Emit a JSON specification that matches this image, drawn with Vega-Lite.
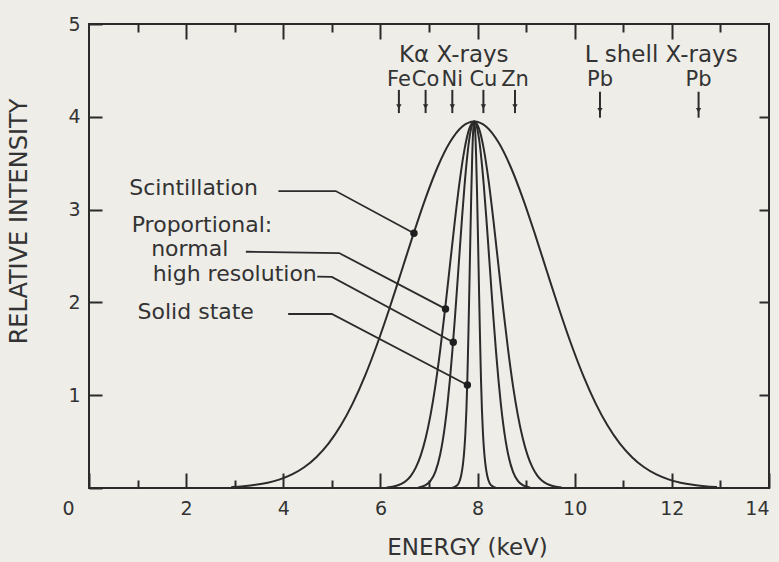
{
  "$schema": "https://vega.github.io/schema/vega-lite/v6.json",
  "width": 680,
  "height": 464,
  "autosize": {"type": "none"},
  "padding": {"left": 89, "top": 24, "right": 10, "bottom": 74},
  "background": "#eeede8",
  "config": {
    "view": {"stroke": "#2a2a2a", "strokeWidth": 2},
    "font": "DejaVu Sans",
    "axis": {"grid": false, "domain": false, "tickColor": "#2a2a2a", "tickWidth": 2, "labelColor": "#333333", "titleColor": "#333333", "titleFontWeight": "normal", "labelFlush": false, "labelOverlap": false}
  },
  "datasets": {
    "curves": [
      {"det": "Scintillation", "e": 2.93, "i": 0.011}, {"det": "Scintillation", "e": 3.18, "i": 0.02}, {"det": "Scintillation", "e": 3.43, "i": 0.034}, {"det": "Scintillation", "e": 3.68, "i": 0.057}, {"det": "Scintillation", "e": 3.93, "i": 0.093}, {"det": "Scintillation", "e": 4.18, "i": 0.146}, {"det": "Scintillation", "e": 4.43, "i": 0.223}, {"det": "Scintillation", "e": 4.68, "i": 0.332}, {"det": "Scintillation", "e": 4.93, "i": 0.478}, {"det": "Scintillation", "e": 5.18, "i": 0.67}, {"det": "Scintillation", "e": 5.43, "i": 0.912}, {"det": "Scintillation", "e": 5.68, "i": 1.205}, {"det": "Scintillation", "e": 5.93, "i": 1.546}, {"det": "Scintillation", "e": 6.18, "i": 1.926}, {"det": "Scintillation", "e": 6.43, "i": 2.33}, {"det": "Scintillation", "e": 6.68, "i": 2.738}, {"det": "Scintillation", "e": 6.93, "i": 3.124}, {"det": "Scintillation", "e": 7.18, "i": 3.462}, {"det": "Scintillation", "e": 7.43, "i": 3.725}, {"det": "Scintillation", "e": 7.68, "i": 3.893}, {"det": "Scintillation", "e": 7.93, "i": 3.95}, {"det": "Scintillation", "e": 8.18, "i": 3.893}, {"det": "Scintillation", "e": 8.43, "i": 3.725}, {"det": "Scintillation", "e": 8.68, "i": 3.462}, {"det": "Scintillation", "e": 8.93, "i": 3.124}, {"det": "Scintillation", "e": 9.18, "i": 2.738}, {"det": "Scintillation", "e": 9.43, "i": 2.33}, {"det": "Scintillation", "e": 9.68, "i": 1.926}, {"det": "Scintillation", "e": 9.93, "i": 1.546}, {"det": "Scintillation", "e": 10.18, "i": 1.205}, {"det": "Scintillation", "e": 10.43, "i": 0.912}, {"det": "Scintillation", "e": 10.68, "i": 0.67}, {"det": "Scintillation", "e": 10.93, "i": 0.478}, {"det": "Scintillation", "e": 11.18, "i": 0.332}, {"det": "Scintillation", "e": 11.43, "i": 0.223}, {"det": "Scintillation", "e": 11.68, "i": 0.146}, {"det": "Scintillation", "e": 11.93, "i": 0.093}, {"det": "Scintillation", "e": 12.18, "i": 0.057}, {"det": "Scintillation", "e": 12.43, "i": 0.034}, {"det": "Scintillation", "e": 12.68, "i": 0.02}, {"det": "Scintillation", "e": 12.93, "i": 0.011},
      {"det": "Normal", "e": 6.13, "i": 0.006}, {"det": "Normal", "e": 6.33, "i": 0.024}, {"det": "Normal", "e": 6.43, "i": 0.044}, {"det": "Normal", "e": 6.53, "i": 0.078}, {"det": "Normal", "e": 6.63, "i": 0.134}, {"det": "Normal", "e": 6.73, "i": 0.222}, {"det": "Normal", "e": 6.83, "i": 0.351}, {"det": "Normal", "e": 6.93, "i": 0.535}, {"det": "Normal", "e": 7.03, "i": 0.782}, {"det": "Normal", "e": 7.13, "i": 1.098}, {"det": "Normal", "e": 7.23, "i": 1.482}, {"det": "Normal", "e": 7.33, "i": 1.923}, {"det": "Normal", "e": 7.43, "i": 2.396}, {"det": "Normal", "e": 7.53, "i": 2.868}, {"det": "Normal", "e": 7.63, "i": 3.299}, {"det": "Normal", "e": 7.73, "i": 3.646}, {"det": "Normal", "e": 7.83, "i": 3.872}, {"det": "Normal", "e": 7.93, "i": 3.95}, {"det": "Normal", "e": 8.03, "i": 3.872}, {"det": "Normal", "e": 8.13, "i": 3.646}, {"det": "Normal", "e": 8.23, "i": 3.299}, {"det": "Normal", "e": 8.33, "i": 2.868}, {"det": "Normal", "e": 8.43, "i": 2.396}, {"det": "Normal", "e": 8.53, "i": 1.923}, {"det": "Normal", "e": 8.63, "i": 1.482}, {"det": "Normal", "e": 8.73, "i": 1.098}, {"det": "Normal", "e": 8.83, "i": 0.782}, {"det": "Normal", "e": 8.93, "i": 0.535}, {"det": "Normal", "e": 9.03, "i": 0.351}, {"det": "Normal", "e": 9.13, "i": 0.222}, {"det": "Normal", "e": 9.23, "i": 0.134}, {"det": "Normal", "e": 9.33, "i": 0.078}, {"det": "Normal", "e": 9.43, "i": 0.044}, {"det": "Normal", "e": 9.53, "i": 0.024}, {"det": "Normal", "e": 9.73, "i": 0.006},
      {"det": "High", "e": 6.78, "i": 0.006}, {"det": "High", "e": 6.93, "i": 0.03}, {"det": "High", "e": 7.03, "i": 0.076}, {"det": "High", "e": 7.13, "i": 0.174}, {"det": "High", "e": 7.23, "i": 0.361}, {"det": "High", "e": 7.33, "i": 0.681}, {"det": "High", "e": 7.38, "i": 0.902}, {"det": "High", "e": 7.43, "i": 1.165}, {"det": "High", "e": 7.48, "i": 1.47}, {"det": "High", "e": 7.53, "i": 1.808}, {"det": "High", "e": 7.58, "i": 2.172}, {"det": "High", "e": 7.63, "i": 2.545}, {"det": "High", "e": 7.68, "i": 2.911}, {"det": "High", "e": 7.73, "i": 3.249}, {"det": "High", "e": 7.78, "i": 3.539}, {"det": "High", "e": 7.83, "i": 3.762}, {"det": "High", "e": 7.88, "i": 3.902}, {"det": "High", "e": 7.93, "i": 3.95}, {"det": "High", "e": 7.98, "i": 3.902}, {"det": "High", "e": 8.03, "i": 3.762}, {"det": "High", "e": 8.08, "i": 3.539}, {"det": "High", "e": 8.13, "i": 3.249}, {"det": "High", "e": 8.18, "i": 2.911}, {"det": "High", "e": 8.23, "i": 2.545}, {"det": "High", "e": 8.28, "i": 2.172}, {"det": "High", "e": 8.33, "i": 1.808}, {"det": "High", "e": 8.38, "i": 1.47}, {"det": "High", "e": 8.43, "i": 1.165}, {"det": "High", "e": 8.48, "i": 0.902}, {"det": "High", "e": 8.53, "i": 0.681}, {"det": "High", "e": 8.63, "i": 0.361}, {"det": "High", "e": 8.73, "i": 0.174}, {"det": "High", "e": 8.83, "i": 0.076}, {"det": "High", "e": 8.93, "i": 0.03}, {"det": "High", "e": 9.08, "i": 0.006},
      {"det": "Solid", "e": 7.48, "i": 0.004}, {"det": "Solid", "e": 7.55, "i": 0.018}, {"det": "Solid", "e": 7.61, "i": 0.05}, {"det": "Solid", "e": 7.66, "i": 0.13}, {"det": "Solid", "e": 7.7, "i": 0.26}, {"det": "Solid", "e": 7.73, "i": 0.43}, {"det": "Solid", "e": 7.75, "i": 0.6}, {"det": "Solid", "e": 7.77, "i": 0.84}, {"det": "Solid", "e": 7.79, "i": 1.178}, {"det": "Solid", "e": 7.81, "i": 1.624}, {"det": "Solid", "e": 7.83, "i": 2.131}, {"det": "Solid", "e": 7.85, "i": 2.661}, {"det": "Solid", "e": 7.87, "i": 3.163}, {"det": "Solid", "e": 7.89, "i": 3.579}, {"det": "Solid", "e": 7.91, "i": 3.854}, {"det": "Solid", "e": 7.93, "i": 3.95}, {"det": "Solid", "e": 7.95, "i": 3.854}, {"det": "Solid", "e": 7.97, "i": 3.579}, {"det": "Solid", "e": 7.99, "i": 3.163}, {"det": "Solid", "e": 8.01, "i": 2.661}, {"det": "Solid", "e": 8.03, "i": 2.131}, {"det": "Solid", "e": 8.05, "i": 1.624}, {"det": "Solid", "e": 8.07, "i": 1.178}, {"det": "Solid", "e": 8.09, "i": 0.84}, {"det": "Solid", "e": 8.11, "i": 0.6}, {"det": "Solid", "e": 8.13, "i": 0.43}, {"det": "Solid", "e": 8.16, "i": 0.26}, {"det": "Solid", "e": 8.2, "i": 0.13}, {"det": "Solid", "e": 8.25, "i": 0.05}, {"det": "Solid", "e": 8.31, "i": 0.018}, {"det": "Solid", "e": 8.38, "i": 0.004}
    ],
    "leaders": [
      {"det": "Scintillation", "o": 1, "e": 3.9, "i": 3.2}, {"det": "Scintillation", "o": 2, "e": 5.08, "i": 3.2}, {"det": "Scintillation", "o": 3, "e": 6.69, "i": 2.745},
      {"det": "Normal", "o": 1, "e": 3.23, "i": 2.546}, {"det": "Normal", "o": 2, "e": 5.15, "i": 2.532}, {"det": "Normal", "o": 3, "e": 7.34, "i": 1.93},
      {"det": "High", "o": 1, "e": 4.7, "i": 2.277}, {"det": "High", "o": 2, "e": 5.0, "i": 2.274}, {"det": "High", "o": 3, "e": 7.5, "i": 1.57},
      {"det": "Solid", "o": 1, "e": 4.1, "i": 1.875}, {"det": "Solid", "o": 2, "e": 5.0, "i": 1.875}, {"det": "Solid", "o": 3, "e": 7.79, "i": 1.11}
    ],
    "dots": [
      {"det": "Scintillation", "e": 6.69, "i": 2.745},
      {"det": "Normal", "e": 7.34, "i": 1.93},
      {"det": "High", "e": 7.5, "i": 1.57},
      {"det": "Solid", "e": 7.79, "i": 1.11}
    ],
    "legendText": [
      {"label": "Scintillation", "e": 0.83, "i": 3.23},
      {"label": "Proportional:", "e": 0.88, "i": 2.83},
      {"label": "normal", "e": 1.28, "i": 2.575},
      {"label": "high resolution", "e": 1.31, "i": 2.31},
      {"label": "Solid state", "e": 1.0, "i": 1.9}
    ],
    "topText": [
      {"label": "Kα X-rays", "e": 7.51, "i": 4.67},
      {"label": "L   shell X-rays", "e": 11.78, "i": 4.67}
    ],
    "elemText": [
      {"label": "Fe", "e": 6.38, "i": 4.4},
      {"label": "Co", "e": 6.93, "i": 4.4},
      {"label": "Ni", "e": 7.48, "i": 4.4},
      {"label": "Cu", "e": 8.12, "i": 4.4},
      {"label": "Zn", "e": 8.77, "i": 4.4},
      {"label": "Pb", "e": 10.52, "i": 4.4},
      {"label": "Pb", "e": 12.55, "i": 4.4}
    ],
    "arrows": [
      {"line": "Fe Kα", "e": 6.38, "top": 4.29, "bottom": 4.04, "head": 4.11},
      {"line": "Co Kα", "e": 6.93, "top": 4.29, "bottom": 4.04, "head": 4.11},
      {"line": "Ni Kα", "e": 7.48, "top": 4.29, "bottom": 4.04, "head": 4.11},
      {"line": "Cu Kα", "e": 8.12, "top": 4.29, "bottom": 4.04, "head": 4.11},
      {"line": "Zn Kα", "e": 8.77, "top": 4.29, "bottom": 4.04, "head": 4.11},
      {"line": "Pb Lα", "e": 10.52, "top": 4.27, "bottom": 3.99, "head": 4.07},
      {"line": "Pb Lβ", "e": 12.55, "top": 4.27, "bottom": 3.99, "head": 4.07}
    ]
  },
  "layer": [
    {
      "data": {"name": "curves"},
      "mark": {"type": "line", "interpolate": "monotone", "stroke": "#2b2b2b", "strokeWidth": 2},
      "encoding": {
        "x": {"field": "e", "type": "quantitative", "scale": {"domain": [0, 14], "nice": false},
          "axis": {"orient": "bottom", "values": [0, 1, 2, 3, 4, 5, 6, 7, 8, 9, 10, 11, 12, 13, 14], "title": "ENERGY (keV)",
            "labelExpr": "datum.value % 2 == 0 ? datum.label : ''",
            "tickSize": {"condition": {"test": "datum.value % 2 == 0", "value": -15}, "value": -8},
            "labelOffset": {"condition": {"test": "datum.value == 0", "value": -21}, "value": 0},
            "labelAlign": {"condition": {"test": "datum.value == 14", "value": "right"}, "value": "center"},
            "labelFontSize": 19, "labelPadding": 26, "titleFontSize": 23, "titleX": 378, "titleY": 48}},
        "y": {"field": "i", "type": "quantitative", "scale": {"domain": [0, 5], "nice": false},
          "axis": {"orient": "left", "values": [0, 1, 2, 3, 4, 5], "title": "RELATIVE INTENSITY",
            "labelExpr": "datum.value == 0 ? '' : datum.label",
            "tickSize": -13, "labelFontSize": 19, "labelPadding": 22, "titleFontSize": 24, "titleX": -58, "titleY": 197}},
        "detail": {"field": "det"}
      }
    },
    {
      "data": {"name": "leaders"},
      "mark": {"type": "line", "stroke": "#2b2b2b", "strokeWidth": 1.8},
      "encoding": {
        "x": {"field": "e", "type": "quantitative",
          "axis": {"orient": "top", "values": [1, 2, 3, 4, 5, 6, 7, 8, 9, 10, 11, 12, 13], "labels": false, "title": null,
            "tickSize": {"condition": {"test": "datum.value % 2 == 0", "value": -15}, "value": -8}}},
        "y": {"field": "i", "type": "quantitative",
          "axis": {"orient": "right", "values": [1, 2, 3, 4], "labels": false, "title": null, "tickSize": -10}},
        "detail": {"field": "det"},
        "order": {"field": "o"}
      }
    },
    {
      "data": {"name": "dots"},
      "mark": {"type": "point", "filled": true, "color": "#1e1e1e", "size": 55, "opacity": 1},
      "encoding": {
        "x": {"field": "e", "type": "quantitative", "axis": null},
        "y": {"field": "i", "type": "quantitative", "axis": null}
      }
    },
    {
      "data": {"name": "arrows"},
      "mark": {"type": "rule", "stroke": "#2b2b2b", "strokeWidth": 2},
      "encoding": {
        "x": {"field": "e", "type": "quantitative", "axis": null},
        "y": {"field": "top", "type": "quantitative", "axis": null},
        "y2": {"field": "bottom"}
      }
    },
    {
      "data": {"name": "arrows"},
      "mark": {"type": "point", "shape": "triangle-down", "filled": true, "color": "#2b2b2b", "size": 28, "opacity": 1},
      "encoding": {
        "x": {"field": "e", "type": "quantitative", "axis": null},
        "y": {"field": "head", "type": "quantitative", "axis": null}
      }
    },
    {
      "data": {"name": "legendText"},
      "mark": {"type": "text", "align": "left", "baseline": "middle", "fontSize": 22, "color": "#333333"},
      "encoding": {
        "x": {"field": "e", "type": "quantitative", "axis": null},
        "y": {"field": "i", "type": "quantitative", "axis": null},
        "text": {"field": "label"}
      }
    },
    {
      "data": {"name": "topText"},
      "mark": {"type": "text", "align": "center", "baseline": "middle", "fontSize": 23, "color": "#333333"},
      "encoding": {
        "x": {"field": "e", "type": "quantitative", "axis": null},
        "y": {"field": "i", "type": "quantitative", "axis": null},
        "text": {"field": "label"}
      }
    },
    {
      "data": {"name": "elemText"},
      "mark": {"type": "text", "align": "center", "baseline": "middle", "fontSize": 21, "color": "#333333"},
      "encoding": {
        "x": {"field": "e", "type": "quantitative", "axis": null},
        "y": {"field": "i", "type": "quantitative", "axis": null},
        "text": {"field": "label"}
      }
    }
  ],
  "resolve": {"axis": {"x": "independent", "y": "independent"}}
}
